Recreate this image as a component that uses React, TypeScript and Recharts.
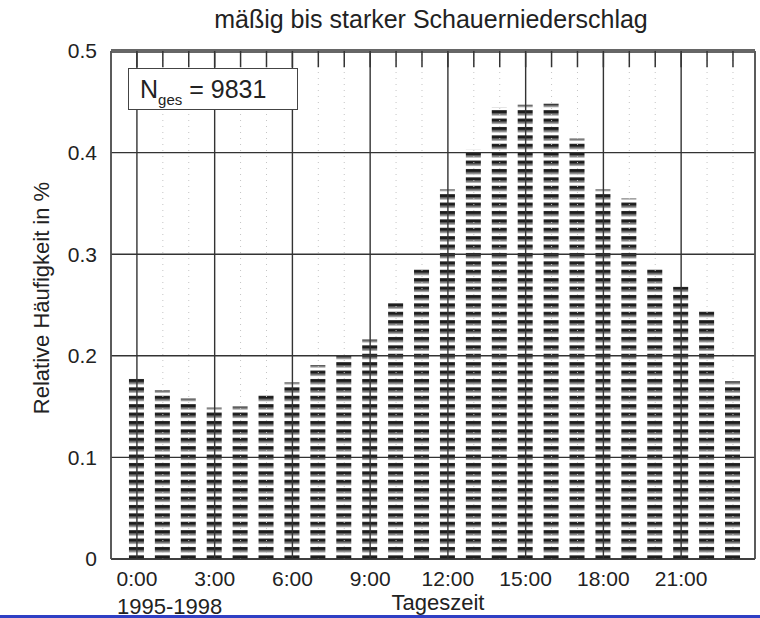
import React from "react";
import {
  BarChart,
  Bar,
  XAxis,
  YAxis,
  CartesianGrid,
  ReferenceLine,
} from "recharts";

const HOURS = [0, 1, 2, 3, 4, 5, 6, 7, 8, 9, 10, 11, 12, 13, 14, 15, 16, 17, 18, 19, 20, 21, 22, 23];
const SHARE = [
  0.178, 0.166, 0.158, 0.149, 0.15, 0.163, 0.174, 0.191, 0.2, 0.216, 0.252, 0.286,
  0.364, 0.403, 0.445, 0.447, 0.448, 0.414, 0.364, 0.355, 0.286, 0.268, 0.246, 0.175,
];
const HOUR_TICKS = [0, 3, 6, 9, 12, 15, 18, 21];
const Y_TICKS = [0, 0.1, 0.2, 0.3, 0.4, 0.5];
const Y_MAX = 0.5;
const TOP_TICK_LEN = 0.016;

const FONT = '"Liberation Sans", Arial, Helvetica, sans-serif';
const X_DOMAIN: [number, number] = [-1, 23.85];

const data = HOURS.map((hour, i) => ({ hour, share: SHARE[i] }));

const text = (extra: React.CSSProperties): React.CSSProperties => ({
  position: "absolute",
  fontFamily: FONT,
  lineHeight: 1,
  color: "#222",
  whiteSpace: "nowrap",
  ...extra,
});

export default function App() {
  return (
    <div style={{ position: "absolute", left: 0, top: 0, width: 760, height: 618, background: "#fff", overflow: "hidden" }}>
      <BarChart
        width={760}
        height={618}
        data={data}
        margin={{ top: 51, right: 0, bottom: 0, left: 0 }}
        barSize={15}
      >
        <defs>
          <pattern id="rows" patternUnits="userSpaceOnUse" width="6" height="8.4">
            <rect x="0" y="0" width="6" height="8.4" fill="#fff" />
            <rect x="0" y="1" width="6" height="3.4" fill="#1c1c1c" />
            <rect x="0" y="4.8" width="6" height="1.3" fill="#666" />
          </pattern>
        </defs>
        {HOURS.filter((h) => h % 3 !== 0).map((h) => (
          <ReferenceLine key={h} x={h} stroke="#c4c4c4" strokeDasharray="1 5" />
        ))}
        <XAxis
          type="number"
          dataKey="hour"
          domain={X_DOMAIN}
          ticks={HOUR_TICKS}
          tickFormatter={(h) => `${h}:00`}
          allowDataOverflow
          height={59}
          tickLine={false}
          tickMargin={6}
          axisLine={{ stroke: "#333", strokeWidth: 1.5 }}
          tick={{ fill: "#222", fontSize: 21, fontFamily: FONT }}
        />
        <YAxis
          domain={[0, Y_MAX]}
          ticks={Y_TICKS}
          width={111}
          tickLine={false}
          tickMargin={8}
          tickFormatter={(v) => (v === 0 ? "0" : v.toFixed(1))}
          axisLine={{ stroke: "#555", strokeWidth: 1.5 }}
          tick={{ fill: "#222", fontSize: 21, fontFamily: FONT }}
        />
        <YAxis
          yAxisId="right"
          orientation="right"
          width={5}
          tick={false}
          axisLine={{ stroke: "#555", strokeWidth: 1.5 }}
        />
        <Bar dataKey="share" fill="url(#rows)" isAnimationActive={false} />
        <CartesianGrid stroke="#333" strokeWidth={1.4} zIndex={350} />
        <ReferenceLine y={Y_MAX} stroke="#666" strokeWidth={4} />
        {HOURS.map((h) => (
          <ReferenceLine
            key={`t${h}`}
            segment={[
              { x: h, y: Y_MAX },
              { x: h, y: Y_MAX - TOP_TICK_LEN },
            ]}
            stroke="#333"
            strokeWidth={1.5}
          />
        ))}
      </BarChart>

      <div style={text({ left: 0, width: 862, top: 7, fontSize: 25, textAlign: "center" })}>
        mäßig bis starker Schauerniederschlag
      </div>
      <div
        style={text({
          left: 42,
          top: 298,
          fontSize: 22,
          transform: "translate(-50%, -50%) rotate(-90deg)",
        })}
      >
        Relative Häufigkeit in %
      </div>
      <div
        style={{
          position: "absolute",
          left: 128,
          top: 68,
          width: 170,
          height: 42,
          border: "1.5px solid #444",
          background: "#fff",
          boxSizing: "border-box",
        }}
      >
        <div style={text({ left: 11, top: 8, fontSize: 25 })}>
          N<span style={{ fontSize: 15, position: "relative", top: 7 }}>ges</span> = 9831
        </div>
      </div>
      <div style={text({ left: 0, width: 876, top: 592, fontSize: 22, textAlign: "center" })}>
        Tageszeit
      </div>
      <div style={text({ left: 117, top: 596, fontSize: 22 })}>1995-1998</div>
      <div style={{ position: "absolute", left: 0, top: 615, width: 760, height: 3, background: "#2f3fc4" }} />
    </div>
  );
}
